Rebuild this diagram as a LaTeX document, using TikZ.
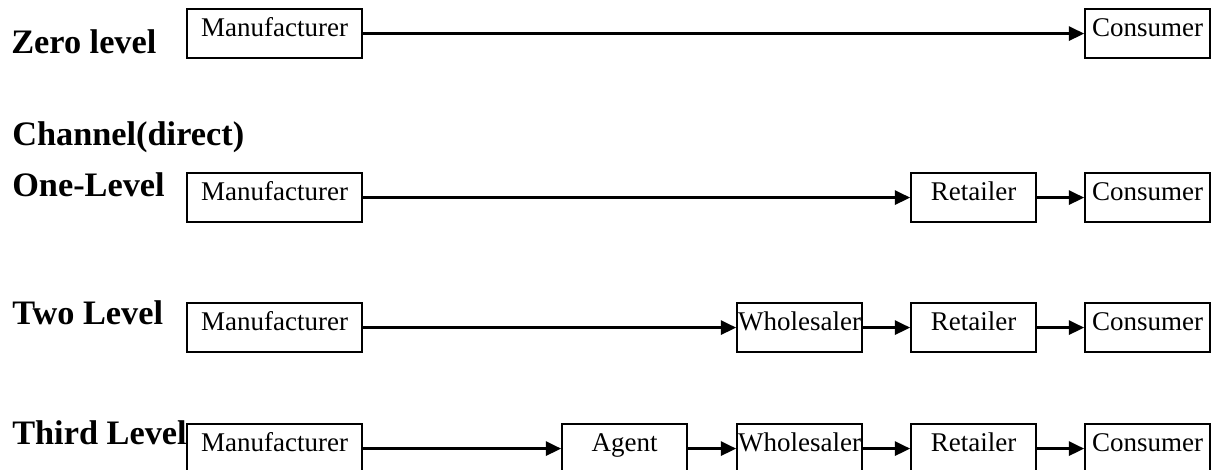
\documentclass[tikz,border=0pt]{standalone}
\usepackage{fontspec}
\setmainfont{Liberation Serif}
\usetikzlibrary{arrows.meta, positioning}
\tikzset{
  chbox/.style={draw, line width=1.5pt, inner sep=0pt, anchor=north west,
                minimum height=1.225cm, text height=0.675cm, text depth=0.55cm,
                font=\fontsize{19.2}{23}\selectfont},
  mbox/.style={chbox, minimum width=4.375cm},
  sbox/.style={chbox, minimum width=3.125cm},
  lvl/.style={anchor=base west, inner sep=0pt, font=\fontsize{24.4}{29}\selectfont\bfseries},
  arr/.style={-{Triangle[length=0.38cm, width=0.36cm]}, line width=1.6pt},
}
\begin{document}
\begin{tikzpicture}[x=0.025cm, y=-0.025cm]
  \useasboundingbox (0,0) rectangle (1218,469);

  % level labels
  \node[lvl] (l0) at (11, 53) {Zero level};
  \node[lvl] (lch) at (12, 145) {Channel(direct)};
  \node[lvl] (l1) at (12, 196) {One-Level};
  \node[lvl] (l2) at (12, 324) {Two Level};
  \node[lvl] (l3) at (12, 444) {Third Level};

  % zero level
  \node[mbox] (m0) at (186, 8) {Manufacturer};
  \node[sbox] (c0) at (1084, 8) {Consumer};

  % one level
  \node[mbox] (m1) at (186, 172) {Manufacturer};
  \node[sbox] (r1) at (910, 172) {Retailer};
  \node[sbox] (c1) at (1084, 172) {Consumer};

  % two level
  \node[mbox] (m2) at (186, 302) {Manufacturer};
  \node[sbox] (w2) at (736, 302) {Wholesaler};
  \node[sbox] (r2) at (910, 302) {Retailer};
  \node[sbox] (c2) at (1084, 302) {Consumer};

  % third level
  \node[mbox] (m3) at (186, 423) {Manufacturer};
  \node[sbox] (a3) at (561, 423) {Agent};
  \node[sbox] (w3) at (736, 423) {Wholesaler};
  \node[sbox] (r3) at (910, 423) {Retailer};
  \node[sbox] (c3) at (1084, 423) {Consumer};

  \draw[arr] (m0) -- (c0);
  \draw[arr] (m1) -- (r1);
  \draw[arr] (r1) -- (c1);
  \draw[arr] (m2) -- (w2);
  \draw[arr] (w2) -- (r2);
  \draw[arr] (r2) -- (c2);
  \draw[arr] (m3) -- (a3);
  \draw[arr] (a3) -- (w3);
  \draw[arr] (w3) -- (r3);
  \draw[arr] (r3) -- (c3);
\end{tikzpicture}
\end{document}
